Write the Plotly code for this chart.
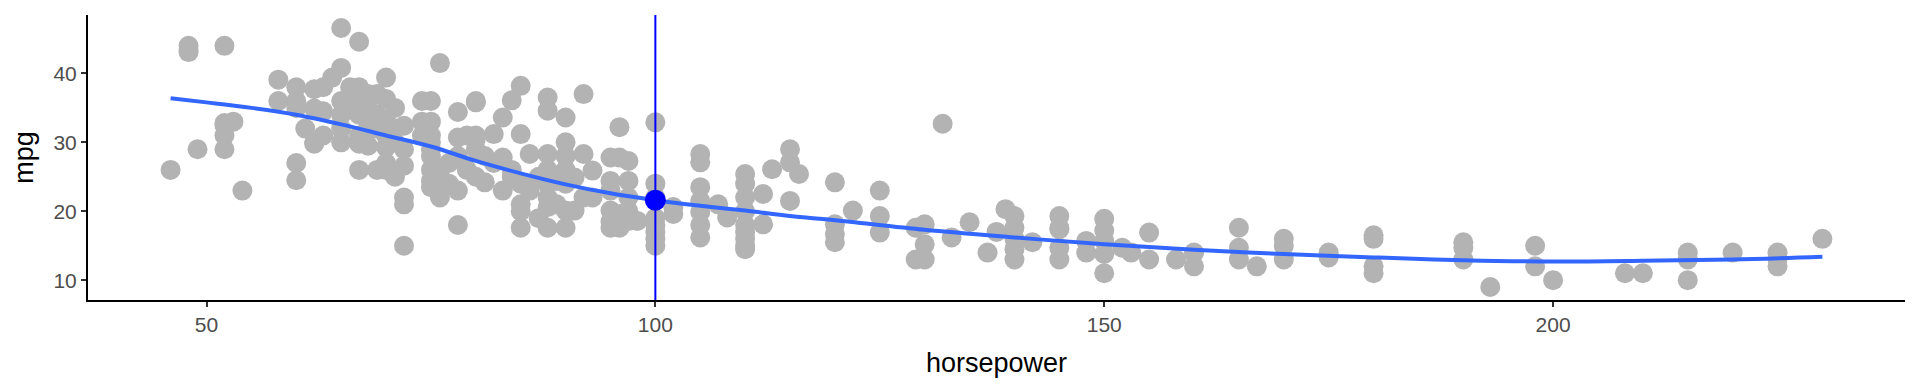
import plotly.graph_objects as go

# ---- data ----
hp_pts = [
    46, 48, 48, 48, 49, 52, 52, 52, 52, 52, 53, 54,
    58, 58, 60, 60, 60, 60, 60, 61, 62, 62, 62, 62, 63, 63, 63, 64,
    65, 65, 65, 65, 65, 65, 66, 66, 67, 67, 67, 67, 67, 67, 67,
    68, 68, 68, 68, 69, 69, 69, 69, 70, 70, 70, 70, 70, 70, 70,
    71, 71, 71, 71, 72, 72, 72, 72, 72, 72, 74, 74, 74,
    75, 75, 75, 75, 75, 75, 75, 75, 75, 76, 76, 76, 77, 77,
    78, 78, 78, 78, 78, 79, 79, 80, 80, 80, 80, 80, 80, 81, 81, 82, 82,
    83, 83, 83, 84, 84, 84, 85, 85, 85, 85, 85, 85, 86, 86, 86, 87, 87,
    88, 88, 88, 88, 88, 88, 88, 88, 89, 89, 90, 90, 90, 90, 90, 90, 90,
    91, 91, 92, 92, 92, 93, 93, 95, 95, 95, 95, 95, 95, 96, 96, 96, 96,
    97, 97, 97, 97, 97, 98, 100, 100, 100, 100, 100, 100, 100, 100,
    102, 102, 105, 105, 105, 105, 105, 105, 105, 107, 108,
    110, 110, 110, 110, 110, 110, 110, 110, 110, 112, 112, 113,
    115, 115, 115, 116, 120, 120, 120, 120, 122, 125, 125, 125,
    129, 129, 130, 130, 130, 132, 133, 135, 137, 138, 139,
    140, 140, 140, 140, 140, 142, 145, 145, 145, 145, 145, 148, 148,
    150, 150, 150, 150, 150, 152, 153, 155, 155, 158, 160, 160,
    165, 165, 165, 167, 170, 170, 170, 175, 175, 180, 180, 180, 180,
    190, 190, 190, 193, 198, 198, 200, 208, 210, 215, 215, 215, 220,
    225, 225, 225, 230,
]
mpg_pts = [
    26, 43.1, 44.0, 43.4, 29, 44, 32.8, 31, 29, 32.5, 33, 23,
    39.1, 36, 38, 36, 35, 27, 24.5, 32, 37.7, 29.8, 34.9, 30, 38, 34.5, 31, 39.4,
    46.6, 40.8, 36, 34, 32, 30, 36, 38, 44.6, 38, 36, 34, 31, 26, 29.8,
    37, 35, 32, 29.5, 37, 34, 32, 26, 39.4, 36.3, 33, 31, 29.3, 27, 26,
    35, 32, 30, 25, 32.4, 29, 26.6, 22, 21, 15, 36, 33, 31,
    36, 33, 31, 30, 29, 28, 26, 24.4, 23.5, 41.5, 25.9, 22, 27, 24,
    34.4, 30.7, 28, 23, 18, 26, 31, 36, 35.8, 31, 30.5, 29, 25, 24.2, 28, 31.2, 27,
    33.6, 27.8, 23, 36.1, 25, 26, 38.2, 31.2, 24, 21, 17.6, 20, 28.3, 24, 23, 25, 19,
    36.5, 34.6, 28.3, 20.6, 17.6, 22, 24, 26, 24.4, 21, 33.6, 30, 28, 26, 24, 20.1, 17.6,
    24.9, 20.1, 37, 28.3, 22, 25.9, 22, 27.8, 24.4, 20.1, 17.6, 18.5, 23, 32.2, 27.8, 19.6, 17.6,
    27.3, 24.4, 18.6, 22, 20, 18.6, 32.9, 24, 22, 19, 18, 17, 16, 15,
    19.6, 20.6, 28.3, 27.1, 23.5, 21.5, 19.9, 18, 16.2, 21, 19.1,
    25.4, 24, 22, 20, 18, 17, 16, 15, 14.5, 22.5, 18.1, 26.1,
    29, 27.1, 21.5, 25.4, 24.2, 18.1, 16.7, 15.5, 20.1, 23, 19.3, 16.9,
    17.6, 13, 18.1, 15.2, 13, 32.7, 16.2, 18.4, 14, 17, 20.3,
    19.3, 17.6, 14.5, 13, 16, 15.5, 19.3, 17.6, 14.7, 13, 17.4, 15.7, 14,
    18.9, 17.2, 15.7, 13.8, 11, 14.7, 14, 16.9, 13, 13, 14, 12,
    17.6, 14.7, 13, 12, 16, 15, 13, 14, 13.3, 16.5, 16, 12, 11,
    15.5, 14.7, 13, 9, 15, 12, 10, 11, 11, 14, 13, 10, 14,
    14, 13, 12, 16,
]

# smooth (loess) curve
hp_fit = [46, 50, 55, 60, 65, 70, 75, 80, 85, 90, 95, 100, 105, 110, 115,
          120, 130, 140, 150, 160, 170, 180, 190, 200, 210, 220, 230]
mpg_fit = [36.4, 35.8, 35.0, 34.0, 32.6, 31.0, 29.4, 27.3, 25.5, 23.9, 22.6,
           21.6, 20.8, 20.1, 19.3, 18.7, 17.3, 16.2, 15.2, 14.4, 13.8, 13.3,
           12.9, 12.7, 12.8, 13.0, 13.4]

x_marker = [100]
y_marker = [21.6]

x_ticks = [50, 100, 150, 200]
y_ticks = [10, 20, 30, 40]

FONT = "Liberation Sans, Arial, sans-serif"

fig = go.Figure()
fig.add_trace(go.Scatter(
    x=hp_pts, y=mpg_pts, mode="markers",
    marker=dict(size=20, color="#B3B3B3", line=dict(width=0)),
    hoverinfo="x+y", showlegend=False))
fig.add_trace(go.Scatter(
    x=hp_fit, y=mpg_fit, mode="lines",
    line=dict(color="#3366FF", width=4, shape="spline", smoothing=1.0),
    showlegend=False))
fig.add_vline(x=x_marker[0], line=dict(color="#0000FF", width=2), layer="above")
fig.add_trace(go.Scatter(
    x=x_marker, y=y_marker, mode="markers",
    marker=dict(size=21, color="#0000FF", line=dict(width=0)),
    showlegend=False))

fig.update_layout(
    width=1920, height=384, autosize=False,
    margin=dict(l=88, r=15, t=15, b=84),
    paper_bgcolor="white", plot_bgcolor="white",
    font=dict(family=FONT),
    xaxis=dict(
        range=[36.8, 239.2], tickvals=x_ticks, ticktext=[str(v) for v in x_ticks],
        showgrid=False, zeroline=False, showline=True, linecolor="black", linewidth=2,
        ticks="outside", ticklen=5, tickwidth=2, tickcolor="#333333",
        tickfont=dict(size=21, color="#4D4D4D", family=FONT),
        title=dict(text="horsepower", font=dict(size=27, color="black", family=FONT), standoff=18),
    ),
    yaxis=dict(
        range=[7.12, 48.48], tickvals=y_ticks, ticktext=[str(v) for v in y_ticks],
        showgrid=False, zeroline=False, showline=True, linecolor="black", linewidth=2,
        ticks="outside", ticklen=5, tickwidth=2, tickcolor="#333333",
        tickfont=dict(size=21, color="#4D4D4D", family=FONT),
        title=dict(text="mpg", font=dict(size=27, color="black", family=FONT), standoff=12),
    ),
)

fig.write_html("out.html")
